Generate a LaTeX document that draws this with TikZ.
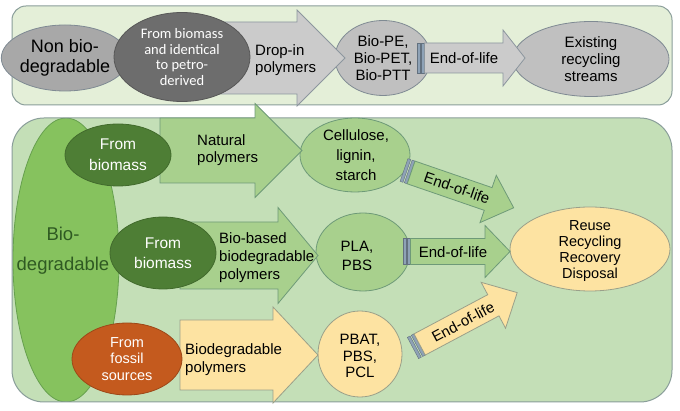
\documentclass[tikz,border=0pt]{standalone}
\usepackage{fontspec}
\setmainfont{Liberation Sans}
\newfontfamily\carl{Carlito}
\usetikzlibrary{shapes.geometric}
\definecolor{toppanel}{HTML}{E4EFD8}
\definecolor{panelborder}{HTML}{8A9E9A}
\definecolor{botpanel}{HTML}{C4DFB7}
\definecolor{graylight}{HTML}{CBCBCB}
\definecolor{graymid}{HTML}{A8A8A8}
\definecolor{grayell}{HTML}{C0C0C0}
\definecolor{graydark}{HTML}{6D6D6D}
\definecolor{grayborder}{HTML}{7F8A93}
\definecolor{biodeg}{HTML}{86C25E}
\definecolor{biodegborder}{HTML}{66A04E}
\definecolor{darkgreen}{HTML}{4E7E35}
\definecolor{midgreen}{HTML}{A8D08D}
\definecolor{greenborder}{HTML}{6E9A78}
\definecolor{lightyellow}{HTML}{FDE3A2}
\definecolor{yellowborder}{HTML}{9AA08A}
\definecolor{fossil}{HTML}{C45A1E}
\definecolor{barc}{HTML}{8EA2B6}
\definecolor{biotext}{HTML}{2F5A22}
\tikzset{
  ell/.style={ellipse, inner sep=0pt, align=center, line width=0.8pt},
  lab/.style={inner sep=0pt, font=\fontsize{15}{17}\selectfont},
  grayarrow/.style={fill=graylight, draw=grayborder!90, line width=0.8pt},
  greenarrow/.style={fill=midgreen, draw=greenborder, line width=0.8pt},
  yellowarrow/.style={fill=lightyellow, draw=yellowborder, line width=0.8pt},
  barstyle/.style={fill=barc, draw=barc!70!black, line width=0.4pt}
}
\newcommand{\blkarrow}[8]{%
  \begin{scope}[shift={(#2)},rotate=#3]
    \filldraw[#1] (#8,-#5) -- ({#4-#7},-#5) -- ({#4-#7},-#6) -- (#4,0) -- ({#4-#7},#6) -- ({#4-#7},#5) -- (#8,#5) -- cycle;
  \end{scope}}
\newcommand{\tailbars}[3]{%
  \begin{scope}[shift={(#1)},rotate=#2]
    \filldraw[barstyle] (0,-#3) rectangle (3,#3);
    \filldraw[barstyle] (4.5,-#3) rectangle (7.5,#3);
  \end{scope}}
\begin{document}
\begin{tikzpicture}[x=1pt,y=-1pt]
\useasboundingbox (0,0) rectangle (680,411);
\fill[white] (0,0) rectangle (680,411);
% ---------- top panel ----------
\filldraw[fill=toppanel, draw=panelborder, line width=1pt, rounded corners=14pt] (12,6) rectangle (672,105);
\node[ell, fill=graymid, draw=grayborder, minimum width=104pt, minimum height=66pt,
      font=\fontsize{18}{19.5}\selectfont] (nonbio) at (65,58) {Non bio-\\degradable};
\node[ell, fill=grayell, draw=grayborder, minimum width=96pt, minimum height=75pt] (biope) at (383,58) {};
\node[ell, fill=grayell, draw=grayborder, minimum width=156pt, minimum height=75pt] (exist) at (591,59) {};
\blkarrow{grayarrow}{200,58}{0}{145}{36}{48}{48}{0}
\node[ell, fill=graydark, draw=graydark!80!black, minimum width=136pt, minimum height=89pt,
      text=white, font=\carl\fontsize{14.5}{15.7}\selectfont] (petro) at (182,57)
      {From biomass\\and identical\\to petro-\\derived};
\tailbars{417,58}{0}{15}
\blkarrow{grayarrow}{417,58}{0}{108}{15}{28}{22}{7.5}
\node[lab, align=left, anchor=west] (dropin) at (255,60) {Drop-in\\polymers};
\node[lab, align=center] (biopetxt) at (383,58) {Bio-PE,\\Bio-PET,\\Bio-PTT};
\node[lab] (eoltop) at (464,58) {End-of-life};
\node[lab, align=center] (existtxt) at (591,59) {Existing\\recycling\\streams};
% ---------- bottom panel ----------
\fill[botpanel, rounded corners=32pt] (12,118) rectangle (672,402);
\begin{scope}
  \clip[rounded corners=32pt] (12,118) rectangle (672,402);
  \filldraw[fill=biodeg, draw=biodegborder, line width=0.8pt] (66,260) ellipse [x radius=53, y radius=142];
\end{scope}
\draw[panelborder, line width=1pt, rounded corners=32pt] (12,118) rectangle (672,402);
\node[inner sep=0pt, align=center, text=biotext, font=\fontsize{18.5}{30}\selectfont] (biodegtxt) at (63,251) {Bio-\\degradable};
% target ellipses
\node[ell, fill=midgreen, draw=greenborder, minimum width=110pt, minimum height=74pt] (cell) at (355,155) {};
\node[ell, fill=midgreen, draw=greenborder, minimum width=94pt, minimum height=78pt] (pla) at (363,252) {};
\node[ell, fill=lightyellow, draw=yellowborder, minimum width=84pt, minimum height=86pt] (pbat) at (360,354) {};
\node[ell, fill=lightyellow, draw=yellowborder, minimum width=160pt, minimum height=84pt] (reuse) at (590,249) {};
% fat arrows
\blkarrow{greenarrow}{160,150.5}{0}{142}{32.5}{47}{47}{0}
\blkarrow{greenarrow}{180,255.5}{0}{138}{33.5}{48}{40}{0}
\blkarrow{yellowarrow}{180,355}{0}{138}{35}{48}{45}{0}
\tailbars{404,170}{-19}{12}
\blkarrow{greenarrow}{404,170}{-19}{116}{12}{25}{27}{7.5}
\tailbars{403,251.5}{0}{13}
\blkarrow{greenarrow}{403,251.5}{0}{107}{13}{26}{25}{7.5}
\tailbars{413,348}{28}{12}
\blkarrow{yellowarrow}{413,348}{28}{118}{12}{26}{27}{7.5}
% source ellipses
\node[ell, fill=darkgreen, draw=darkgreen!85!black, minimum width=106pt, minimum height=62pt,
      text=white, font=\fontsize{15.5}{21}\selectfont] (bio1) at (118,155) {From\\biomass};
\node[ell, fill=darkgreen, draw=darkgreen!85!black, minimum width=106pt, minimum height=72pt,
      text=white, font=\fontsize{15.5}{20}\selectfont] (bio2) at (163,253) {From\\biomass};
\node[ell, fill=fossil, draw=fossil!80!black, minimum width=110pt, minimum height=72pt,
      text=white, font=\fontsize{14.5}{16.5}\selectfont] (foss) at (127,359) {From\\fossil\\sources};
% labels
\node[lab, align=left, anchor=west] (natpol) at (197,150) {Natural\\polymers};
\node[lab, align=left, anchor=west, font=\fontsize{15}{18}\selectfont] (biobased) at (219,258) {Bio-based\\biodegradable\\polymers};
\node[lab, align=left, anchor=west, font=\fontsize{15}{18}\selectfont] (biodegpol) at (185,360) {Biodegradable\\polymers};
\node[lab, align=center, font=\fontsize{15}{20}\selectfont] (celltxt) at (356,155) {Cellulose,\\lignin,\\starch};
\node[lab, align=center, font=\fontsize{15}{19}\selectfont] (platxt) at (357,256) {PLA,\\PBS};
\node[lab, align=center, font=\fontsize{15}{16.5}\selectfont] (pbattxt) at (360,356) {PBAT,\\PBS,\\PCL};
\node[lab, align=center, font=\fontsize{14.5}{16.3}\selectfont] (reusetxt) at (590,251) {Reuse\\Recycling\\Recovery\\Disposal};
\node[lab, rotate=-19] (eol1) at (457,188) {End-of-life};
\node[lab] (eol2) at (453,252) {End-of-life};
\node[lab, rotate=28] (eol3) at (463,322) {End-of-life};
\end{tikzpicture}
\end{document}
